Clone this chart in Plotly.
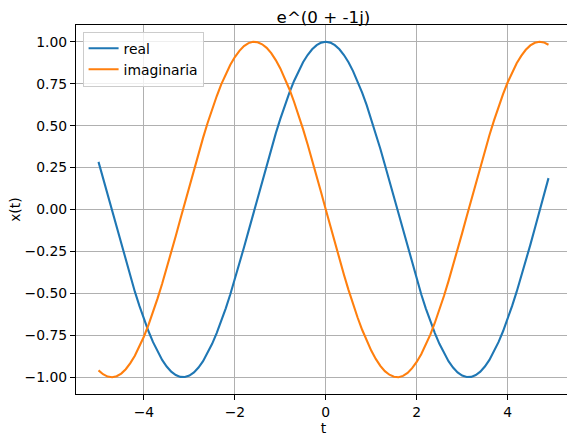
import plotly.graph_objects as go

t = [-5.0, -4.9, -4.8, -4.7, -4.6, -4.5, -4.4, -4.3, -4.2, -4.1,
     -4.0, -3.9, -3.8, -3.7, -3.6, -3.5, -3.4, -3.3, -3.2, -3.1,
     -3.0, -2.9, -2.8, -2.7, -2.6, -2.5, -2.4, -2.3, -2.2, -2.1,
     -2.0, -1.9, -1.8, -1.7, -1.6, -1.5, -1.4, -1.3, -1.2, -1.1,
     -1.0, -0.9, -0.8, -0.7, -0.6, -0.5, -0.4, -0.3, -0.2, -0.1,
     0.0, 0.1, 0.2, 0.3, 0.4, 0.5, 0.6, 0.7, 0.8, 0.9,
     1.0, 1.1, 1.2, 1.3, 1.4, 1.5, 1.6, 1.7, 1.8, 1.9,
     2.0, 2.1, 2.2, 2.3, 2.4, 2.5, 2.6, 2.7, 2.8, 2.9,
     3.0, 3.1, 3.2, 3.3, 3.4, 3.5, 3.6, 3.7, 3.8, 3.9,
     4.0, 4.1, 4.2, 4.3, 4.4, 4.5, 4.6, 4.7, 4.8, 4.9]

real = [0.284, 0.187, 0.087, -0.012, -0.112, -0.211, -0.307, -0.401, -0.490, -0.575,
        -0.654, -0.726, -0.791, -0.848, -0.897, -0.936, -0.967, -0.987, -0.998, -0.999,
        -0.990, -0.971, -0.942, -0.904, -0.857, -0.801, -0.737, -0.666, -0.589, -0.505,
        -0.416, -0.323, -0.227, -0.129, -0.029, 0.071, 0.170, 0.267, 0.362, 0.454,
        0.540, 0.622, 0.697, 0.765, 0.825, 0.878, 0.921, 0.955, 0.980, 0.995,
        1.000, 0.995, 0.980, 0.955, 0.921, 0.878, 0.825, 0.765, 0.697, 0.622,
        0.540, 0.454, 0.362, 0.267, 0.170, 0.071, -0.029, -0.129, -0.227, -0.323,
        -0.416, -0.505, -0.589, -0.666, -0.737, -0.801, -0.857, -0.904, -0.942, -0.971,
        -0.990, -0.999, -0.998, -0.987, -0.967, -0.936, -0.897, -0.848, -0.791, -0.726,
        -0.654, -0.575, -0.490, -0.401, -0.307, -0.211, -0.112, -0.012, 0.087, 0.187]

imaginaria = [-0.959, -0.982, -0.996, -1.000, -0.994, -0.978, -0.952, -0.916, -0.872, -0.818,
              -0.757, -0.688, -0.612, -0.530, -0.443, -0.351, -0.256, -0.158, -0.058, 0.042,
              0.141, 0.239, 0.335, 0.427, 0.516, 0.598, 0.675, 0.746, 0.808, 0.863,
              0.909, 0.946, 0.974, 0.992, 1.000, 0.997, 0.985, 0.964, 0.932, 0.891,
              0.841, 0.783, 0.717, 0.644, 0.565, 0.479, 0.389, 0.296, 0.199, 0.100,
              0.000, -0.100, -0.199, -0.296, -0.389, -0.479, -0.565, -0.644, -0.717, -0.783,
              -0.841, -0.891, -0.932, -0.964, -0.985, -0.997, -1.000, -0.992, -0.974, -0.946,
              -0.909, -0.863, -0.808, -0.746, -0.675, -0.598, -0.516, -0.427, -0.335, -0.239,
              -0.141, -0.042, 0.058, 0.158, 0.256, 0.351, 0.443, 0.530, 0.612, 0.688,
              0.757, 0.818, 0.872, 0.916, 0.952, 0.978, 0.994, 1.000, 0.996, 0.982]

x_ticks = [-4, -2, 0, 2, 4]
y_ticks = [-1.0, -0.75, -0.5, -0.25, 0.0, 0.25, 0.5, 0.75, 1.0]

FONT = "DejaVu Sans"
FS = 13.9

fig = go.Figure()
fig.add_trace(go.Scatter(x=t, y=real, mode="lines", name="real",
                         line=dict(color="#1f77b4", width=2.1)))
fig.add_trace(go.Scatter(x=t, y=imaginaria, mode="lines", name="imaginaria",
                         line=dict(color="#ff7f0e", width=2.1)))

axis_common = dict(
    showline=True, linecolor="black", linewidth=1.1, mirror=True,
    ticks="outside", ticklen=5, tickwidth=1.1, tickcolor="black",
    showgrid=True, gridcolor="#b0b0b0", gridwidth=1.1,
    zeroline=False, automargin=False,
    tickfont=dict(family=FONT, size=FS, color="black"),
)

fig.update_xaxes(range=[-5.495, 5.395], tickvals=x_ticks,
                 title=dict(text="t", font=dict(family=FONT, size=FS, color="black"), standoff=4),
                 **axis_common)
fig.update_yaxes(range=[-1.1, 1.1], tickvals=y_ticks, tickformat=".2f",
                 **axis_common)

fig.add_annotation(text="x(t)", textangle=-90, xref="paper", yref="paper",
                   x=(6.0 - 67.7) / 495.5, y=0.5, xanchor="center", yanchor="middle",
                   showarrow=False, font=dict(family=FONT, size=FS, color="black"))

fig.update_layout(
    width=567, height=431,
    margin=dict(l=67.7, r=3.8, t=16.5, b=45.2),
    paper_bgcolor="white", plot_bgcolor="white",
    font=dict(family=FONT, size=FS, color="black"),
    title=dict(text="e^(0 + -1j)", x=0.5, xanchor="center", xref="paper",
               y=1 - 9.5 / 431, yref="container", yanchor="middle",
               font=dict(family=FONT, size=16.7, color="black")),
    showlegend=True,
    legend=dict(x=0.0133, y=0.982, xanchor="left", yanchor="top",
                bgcolor="rgba(255,255,255,0.8)", bordercolor="#cccccc", borderwidth=1,
                font=dict(family=FONT, size=FS, color="black"),
                tracegroupgap=0, itemwidth=30),
)

fig.write_html("out.html")
